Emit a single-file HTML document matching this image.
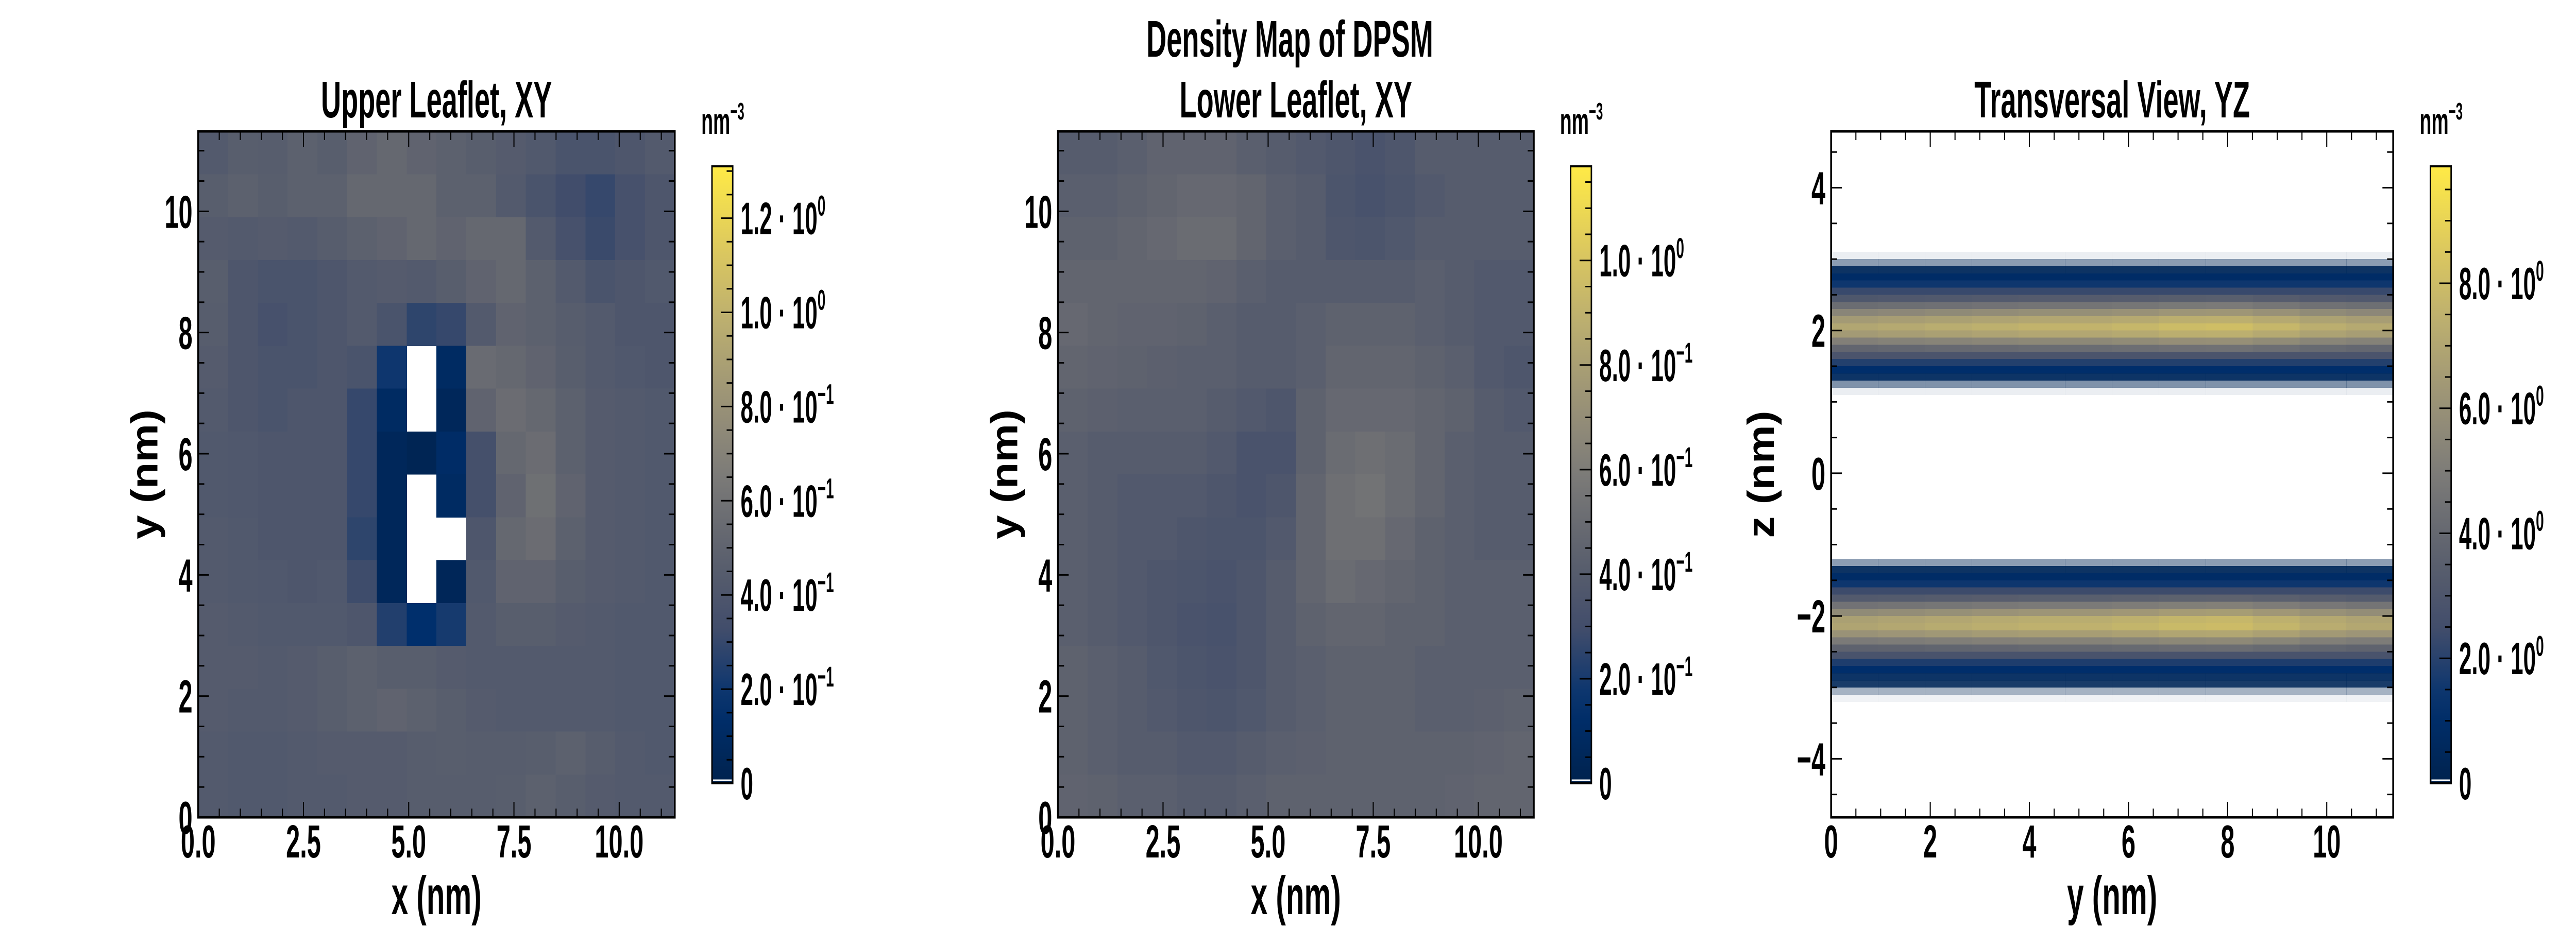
<!DOCTYPE html>
<html><head><meta charset="utf-8"><style>
html,body{margin:0;padding:0;background:#fff;width:100%;height:100%;overflow:hidden;}
svg{display:block;width:100vw;height:100vh;}
text{font-family:"Liberation Sans Narrow","Liberation Sans",sans-serif;font-weight:bold;fill:#000;}
</style></head><body>
<svg id="fig" xmlns="http://www.w3.org/2000/svg" viewBox="0 0 7200 1800" preserveAspectRatio="none"></svg>
<script>
// ---- data ----
// Upper leaflet XY: 16x16 grid (rows from top y=11.3 down to 0), nm^-3, null = empty
const upperGrid = [
[0.43,0.46,0.45,0.48,0.46,0.50,0.53,0.50,0.48,0.46,0.44,0.42,0.38,0.38,0.40,0.43],
[0.46,0.48,0.46,0.48,0.48,0.53,0.53,0.53,0.48,0.48,0.43,0.38,0.33,0.30,0.36,0.40],
[0.44,0.43,0.44,0.43,0.45,0.48,0.50,0.53,0.50,0.53,0.53,0.43,0.36,0.31,0.36,0.40],
[0.46,0.40,0.38,0.38,0.40,0.43,0.44,0.43,0.46,0.50,0.53,0.48,0.43,0.38,0.40,0.42],
[0.45,0.40,0.36,0.38,0.40,0.43,0.38,0.28,0.30,0.43,0.50,0.48,0.45,0.43,0.40,0.40],
[0.44,0.40,0.38,0.38,0.40,0.38,0.20,null,0.10,0.55,0.53,0.50,0.46,0.43,0.41,0.40],
[0.43,0.40,0.38,0.40,0.40,0.30,0.10,null,0.06,0.50,0.56,0.53,0.48,0.44,0.43,0.42],
[0.42,0.41,0.40,0.40,0.40,0.30,0.06,0.03,0.12,0.35,0.53,0.56,0.48,0.44,0.43,0.42],
[0.42,0.41,0.40,0.40,0.40,0.30,0.06,null,0.10,0.35,0.50,0.58,0.50,0.44,0.43,0.42],
[0.43,0.42,0.40,0.40,0.40,0.28,0.06,null,null,0.40,0.53,0.56,0.48,0.44,0.43,0.42],
[0.43,0.42,0.41,0.40,0.41,0.32,0.06,null,0.05,0.42,0.50,0.50,0.46,0.44,0.43,0.42],
[0.44,0.43,0.42,0.42,0.42,0.40,0.25,0.15,0.22,0.43,0.46,0.46,0.44,0.43,0.42,0.42],
[0.44,0.44,0.43,0.44,0.46,0.48,0.46,0.46,0.44,0.43,0.43,0.43,0.43,0.43,0.42,0.42],
[0.44,0.43,0.43,0.44,0.46,0.48,0.50,0.48,0.46,0.44,0.43,0.43,0.43,0.43,0.42,0.42],
[0.43,0.42,0.42,0.43,0.44,0.44,0.44,0.45,0.46,0.45,0.45,0.46,0.48,0.45,0.43,0.42],
[0.43,0.42,0.42,0.43,0.43,0.44,0.44,0.45,0.45,0.45,0.46,0.48,0.46,0.44,0.43,0.43]
];
// Lower leaflet XY: 16x16 grid
const lowerGrid = [
[0.40,0.40,0.42,0.45,0.45,0.45,0.42,0.40,0.38,0.36,0.34,0.36,0.40,0.40,0.40,0.40],
[0.42,0.42,0.44,0.46,0.48,0.48,0.46,0.42,0.40,0.35,0.33,0.35,0.38,0.40,0.40,0.40],
[0.44,0.44,0.46,0.48,0.50,0.50,0.46,0.42,0.40,0.36,0.35,0.37,0.40,0.40,0.40,0.40],
[0.46,0.46,0.46,0.46,0.46,0.45,0.42,0.40,0.40,0.40,0.40,0.40,0.42,0.40,0.38,0.38],
[0.48,0.46,0.45,0.45,0.44,0.42,0.40,0.40,0.42,0.44,0.44,0.44,0.42,0.40,0.38,0.38],
[0.46,0.45,0.44,0.43,0.42,0.42,0.40,0.40,0.42,0.46,0.46,0.46,0.44,0.42,0.38,0.36],
[0.44,0.43,0.42,0.42,0.42,0.40,0.38,0.36,0.44,0.48,0.48,0.48,0.46,0.44,0.40,0.38],
[0.42,0.40,0.40,0.40,0.40,0.38,0.34,0.34,0.44,0.50,0.52,0.50,0.46,0.42,0.40,0.40],
[0.42,0.40,0.38,0.38,0.38,0.36,0.34,0.36,0.46,0.52,0.54,0.50,0.46,0.42,0.40,0.40],
[0.42,0.40,0.38,0.38,0.36,0.35,0.35,0.38,0.46,0.52,0.52,0.48,0.44,0.42,0.40,0.40],
[0.42,0.40,0.38,0.36,0.35,0.34,0.36,0.40,0.46,0.50,0.48,0.46,0.44,0.42,0.42,0.42],
[0.42,0.40,0.38,0.36,0.34,0.33,0.36,0.40,0.44,0.46,0.46,0.44,0.44,0.42,0.42,0.42],
[0.44,0.42,0.40,0.37,0.35,0.34,0.36,0.40,0.42,0.44,0.44,0.44,0.42,0.42,0.42,0.42],
[0.44,0.42,0.40,0.38,0.36,0.35,0.37,0.40,0.42,0.44,0.44,0.44,0.42,0.42,0.43,0.44],
[0.44,0.42,0.40,0.40,0.38,0.38,0.40,0.42,0.43,0.44,0.44,0.44,0.44,0.44,0.45,0.46],
[0.45,0.44,0.42,0.42,0.40,0.40,0.42,0.44,0.44,0.44,0.44,0.44,0.44,0.45,0.46,0.46]
];
// Transversal YZ: z row centres (nm), density profile and coverage (fraction of filled bins)
const zCenters  = [3.05,2.95,2.85,2.75,2.65,2.55,2.45,2.35,2.25,2.15,2.05,1.95,1.85,1.75,1.65,1.55,1.45,1.35,1.25,1.15,
                   -1.25,-1.35,-1.45,-1.55,-1.65,-1.75,-1.85,-1.95,-2.05,-2.15,-2.25,-2.35,-2.45,-2.55,-2.65,-2.75,-2.85,-2.95,-3.05,-3.15];
const zDensity  = [0.2,0.3,0.5,0.9,1.5,2.3,3.3,4.6,5.9,7.0,7.6,7.0,5.6,4.2,2.9,1.9,1.1,0.6,0.3,0.2,
                   0.3,0.5,0.9,1.5,2.4,3.5,4.9,6.2,7.3,7.5,6.6,5.3,4.0,2.8,1.8,1.1,0.6,0.4,0.2,0.2];
const zCoverage = [0.08,0.45,0.95,1,1,1,1,1,1,1,1,1,1,1,1,1,1,0.95,0.5,0.08,
                   0.45,0.95,1,1,1,1,1,1,1,1,1,1,1,1,1,1,0.95,0.9,0.35,0.06];
// per-1nm column brightness factors along y
const yColFactor = [0.92,0.94,0.96,0.98,1.0,1.0,1.02,1.05,1.06,1.02,0.97,0.94];
const xyTicks = [0,2.5,5,7.5,10];
const xyTickLabels = ["0.0","2.5","5.0","7.5","10.0"];
const xyYTicks = [0,2,4,6,8,10];
const yzXTicks = [0,2,4,6,8,10];
const yzZTicks = [-4,-2,0,2,4];
const yzZLabels = ["\u22124","\u22122","0","2","4"];
const cb1Ticks = [0,0.2,0.4,0.6,0.8,1.0,1.2];
const cb1Labels = ["0","2.0 · 10","4.0 · 10","6.0 · 10","8.0 · 10","1.0 · 10","1.2 · 10"];
const cb1Exp = ["","\u22121","\u22121","\u22121","\u22121","0","0"];
const cb2Ticks = [0,0.2,0.4,0.6,0.8,1.0];
const cb2Labels = ["0","2.0 · 10","4.0 · 10","6.0 · 10","8.0 · 10","1.0 · 10"];
const cb2Exp = ["","\u22121","\u22121","\u22121","\u22121","0"];
const cb3Ticks = [0,2,4,6,8];
const cb3Labels = ["0","2.0 · 10","4.0 · 10","6.0 · 10","8.0 · 10"];
const cb3Exp = ["","0","0","0","0"];

// ---- helpers ----
const NS="http://www.w3.org/2000/svg";
const svg=document.getElementById('fig');
function mk(tag,attrs,parent){const e=document.createElementNS(NS,tag);for(const k in attrs)e.setAttribute(k,attrs[k]);(parent||svg).appendChild(e);return e;}
const CIV=[[0,0,34,78],[0.125,0,48,111],[0.25,65,77,107],[0.375,94,98,110],[0.5,124,123,120],[0.625,156,148,119],[0.75,188,175,111],[0.875,223,203,93],[1,255,234,70]];
function cividis(t){t=Math.max(0,Math.min(1,t));for(let i=1;i<CIV.length;i++){if(t<=CIV[i][0]){const a=CIV[i-1],b=CIV[i],f=(t-a[0])/(b[0]-a[0]);return `rgb(${Math.round(a[1]+f*(b[1]-a[1]))},${Math.round(a[2]+f*(b[2]-a[2]))},${Math.round(a[3]+f*(b[3]-a[3]))})`;}}return 'rgb(255,234,70)';}
function txt(s,x,y,size,anchor,parent,sx){const t=mk('text',{x:0,y:0,'font-size':size,'text-anchor':anchor||'middle',transform:`translate(${x},${y}) scale(${sx||0.78},1)`},parent);t.textContent=s;return t;}

function axes(cfg){
  const g=mk('g',{});
  
  
  const {L,R,T,B,x0,x1,y0,y1}=cfg;
  const sx=v=>L+(v-x0)/(x1-x0)*(R-L), sy=v=>B-(v-y0)/(y1-y0)*(B-T);
  cfg.draw(g,sx,sy);
  const tg=mk('g',{stroke:'#000','stroke-width':3},g);
  
  
  for(let v=x0;v<=x1+1e-9;v+=cfg.xMinor){const isMaj=cfg.xTicks.some(m=>Math.abs(m-v)<1e-6);const len=isMaj?30:17;const X=sx(v);mk('line',{x1:X,x2:X,y1:B,y2:B-len},tg);mk('line',{x1:X,x2:X,y1:T,y2:T+len},tg);}
  const ys=Math.ceil(y0/cfg.yMinor-1e-9)*cfg.yMinor;
  for(let v=ys;v<=y1+1e-9;v+=cfg.yMinor){const isMaj=cfg.yTicks.some(m=>Math.abs(m-v)<1e-6);const len=isMaj?30:17;const Y=sy(v);mk('line',{x1:L,x2:L+len,y1:Y,y2:Y},tg);mk('line',{x1:R,x2:R-len,y1:Y,y2:Y},tg);}
  mk('rect',{x:L,y:T,width:R-L,height:B-T,fill:'none',stroke:'#000','stroke-width':5},g);
  cfg.xTicks.forEach((v,i)=>{const t=txt(cfg.xLabels[i],sx(v),1665,90,'middle',g);});
  cfg.yTicks.forEach((v,i)=>{const t=txt(cfg.yLabels[i],L-16,sy(v)+32,90,'end',g);});
  const xl=txt(cfg.xTitle,(L+R)/2,1775,105,'middle',g,0.8);
  
  const yl=mk('text',{x:0,y:0,'font-size':105,'text-anchor':'middle',transform:`translate(${cfg.yTitleX},${(T+B)/2}) rotate(-90) scale(0.8,1)`},g);
  yl.textContent=cfg.yTitle;
  const tt=txt(cfg.title,(L+R)/2,228,100,'middle',g,0.78);
  
  const cb=mk('g',{},g);
  const cL=cfg.cbL,cR=cfg.cbL+58,cT=323,cB=1521,cs=v=>cB-v/cfg.cbMax*(cB-cT);
  const gid='grad'+cfg.name;const lg=mk('linearGradient',{id:gid,x1:0,y1:1,x2:0,y2:0},mk('defs',{},cb));
  for(let i=0;i<=20;i++)mk('stop',{offset:i/20,'stop-color':cividis(i/20)},lg);
  mk('rect',{x:cL,y:cT,width:cR-cL,height:cB-cT,fill:`url(#${gid})`,stroke:'#000','stroke-width':4},cb);
  mk('line',{x1:cL+3,x2:cR-3,y1:cB-6,y2:cB-6,stroke:'#fff','stroke-width':3},cb);
  for(let v=0;v<=cfg.cbMax+1e-9;v+=cfg.cbMinor){const isMaj=cfg.cbTicks.some(m=>Math.abs(m-v)<1e-6);if(v<1e-9)continue;const Y=cs(v);mk('line',{x1:cR,x2:cR-(isMaj?33:17),y1:Y,y2:Y,stroke:'#000','stroke-width':3},cb);}
  cfg.cbTicks.forEach((v,i)=>{const t=txt(cfg.cbLabels[i],cL+80,cs(v)+31,88,'start',cb,0.72);
    if(cfg.cbExp[i]){const ts=mk('tspan',{'font-size':56,dy:-36},t);ts.textContent=cfg.cbExp[i];}});
  const u=txt('nm',cL-30,260,72,'start',cb,0.75);
  const us=mk('tspan',{'font-size':46,dy:-28},u);us.textContent='\u22123';
}

function drawGrid(grid,max){return (g,sx,sy)=>{
  const m=grid[0].length,step=11.32/m;
  const hg=mk('g',{'shape-rendering':'crispEdges'},g);
  
  grid.forEach((row,r)=>row.forEach((v,c)=>{if(v===null)return;
    const x=sx(c*step),y=sy(11.32-r*step);
    const cell=mk('rect',{x:x,y:y,width:sx((c+1)*step)-x+0.5,height:sy(11.32-(r+1)*step)-y+0.5,fill:cividis(v/max)},hg);
    }));
};}

axes({name:'upper-leaflet',L:554,R:1886,T:255,B:1587,x0:0,x1:11.32,y0:0,y1:11.32,xTicks:xyTicks,xLabels:xyTickLabels,yTicks:xyYTicks,yLabels:xyYTicks.map(String),xMinor:0.5,yMinor:0.5,
  xTitle:'x (nm)',yTitle:'y (nm)',yTitleX:440,title:'Upper Leaflet, XY',draw:drawGrid(upperGrid,1.31),
  cbL:1990,cbMax:1.31,cbMinor:0.05,cbTicks:cb1Ticks,cbLabels:cb1Labels,cbExp:cb1Exp});
axes({name:'lower-leaflet',L:2957,R:4287,T:255,B:1587,x0:0,x1:11.32,y0:0,y1:11.32,xTicks:xyTicks,xLabels:xyTickLabels,yTicks:xyYTicks,yLabels:xyYTicks.map(String),xMinor:0.5,yMinor:0.5,
  xTitle:'x (nm)',yTitle:'y (nm)',yTitleX:2843,title:'Lower Leaflet, XY',draw:drawGrid(lowerGrid,1.18),
  cbL:4390,cbMax:1.18,cbMinor:0.05,cbTicks:cb2Ticks,cbLabels:cb2Labels,cbExp:cb2Exp});
axes({name:'transversal-view',L:5118,R:6689,T:255,B:1587,x0:0,x1:11.34,y0:-4.82,y1:4.79,xTicks:yzXTicks,xLabels:yzXTicks.map(String),yTicks:yzZTicks,yLabels:yzZLabels,xMinor:0.5,yMinor:0.5,
  xTitle:'y (nm)',yTitle:'z (nm)',yTitleX:4958,title:'Transversal View, YZ',
  draw:(g,sx,sy)=>{const hg=mk('g',{'shape-rendering':'crispEdges'},g);
    
    const cw=11.34/yColFactor.length;
    zCenters.forEach((z,i)=>yColFactor.forEach((f,c)=>{
      const x=sx(c*cw),y=sy(z+0.05);
      const cell=mk('rect',{x:x,y:y,width:sx((c+1)*cw)-x+0.5,height:sy(z-0.05)-y+0.5,fill:cividis(zDensity[i]*(zDensity[i]>3?f:1)/9.87),'fill-opacity':zCoverage[i]},hg);
      }));},
  cbL:6793,cbMax:9.87,cbMinor:0.5,cbTicks:cb3Ticks,cbLabels:cb3Labels,cbExp:cb3Exp});

const sup=txt('Density Map of DPSM',3605,110,100,'middle',svg,0.78);


</script>
</body></html>
